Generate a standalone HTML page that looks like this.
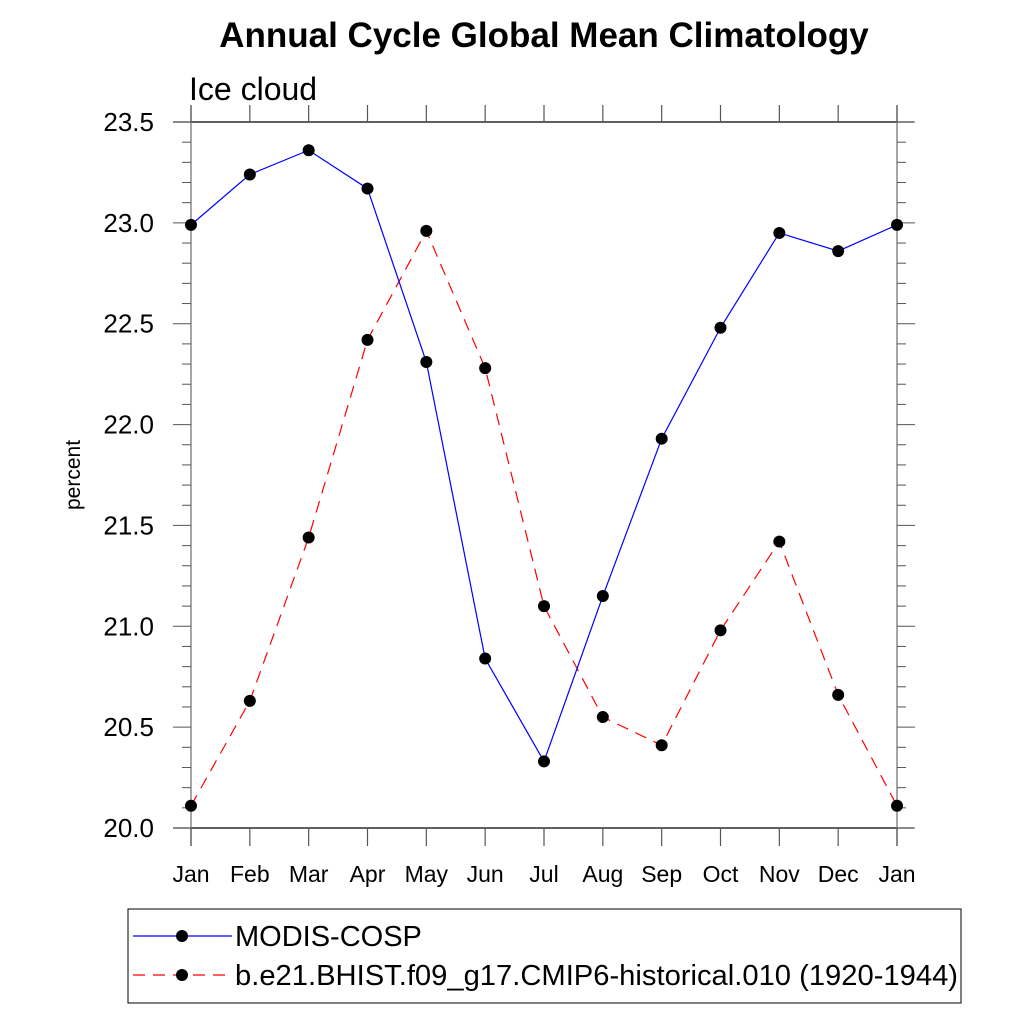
<!DOCTYPE html>
<html><head><meta charset="utf-8"><style>
html,body{margin:0;padding:0;background:#fff;}
svg{display:block;font-family:"Liberation Sans",sans-serif;}
</style></head><body>
<svg id="chart" width="1024" height="1024" viewBox="0 0 1024 1024">
<text x="544" y="47" text-anchor="middle" font-size="35" font-weight="bold">Annual Cycle Global Mean Climatology</text>
<text x="189" y="100" font-size="32">Ice cloud</text>
<text transform="translate(80,475) rotate(-90)" text-anchor="middle" font-size="21">percent</text>
<g id="axes"></g>
<g id="series"></g>
<rect x="128" y="909" width="833" height="94" fill="#fff" stroke="#000" stroke-width="1"/>
<line x1="133" y1="936" x2="232" y2="936" stroke="#0000ff" stroke-width="1.2"/>
<circle cx="182" cy="936" r="6" fill="#000"/>
<text x="235" y="946" font-size="29">MODIS-COSP</text>
<line x1="133" y1="975" x2="232" y2="975" stroke="#ff0000" stroke-width="1.2" stroke-dasharray="12,8"/>
<circle cx="182" cy="975" r="6" fill="#000"/>
<text x="235" y="985" font-size="29" textLength="723" lengthAdjust="spacingAndGlyphs">b.e21.BHIST.f09_g17.CMIP6-historical.010 (1920-1944)</text>
</svg>
<script>
const months = ["Jan","Feb","Mar","Apr","May","Jun","Jul","Aug","Sep","Oct","Nov","Dec","Jan"];
const modisValues = [22.99,23.24,23.36,23.17,22.31,20.84,20.33,21.15,21.93,22.48,22.95,22.86,22.99];
const modelValues = [20.11,20.63,21.44,22.42,22.96,22.28,21.10,20.55,20.41,20.98,21.42,20.66,20.11];
const yTicks = ["20.0","20.5","21.0","21.5","22.0","22.5","23.0","23.5"];
const NS="http://www.w3.org/2000/svg";
const X0=191,X1=897,Y0=828,Y1=122,YMIN=20,YMAX=23.5;
function xs(i){return X0+(X1-X0)*i/(months.length-1);}
function ys(v){return Y0-(v-YMIN)/(YMAX-YMIN)*(Y0-Y1);}
function mk(tag,attrs,parent){const e=document.createElementNS(NS,tag);for(const k in attrs)e.setAttribute(k,attrs[k]);parent.appendChild(e);return e;}
const ax=document.getElementById('axes');
[[173,122,914,122,'top-axis-line'],[173,828,914,828,'bottom-axis-line'],[191,105,191,846,'left-axis-line'],[897,105,897,846,'right-axis-line']].forEach(a=>{
  const l=mk('line',{x1:a[0],y1:a[1],x2:a[2],y2:a[3],stroke:a[1]===a[3]?'#000':'#777','stroke-width':1.3},ax);
  
  
});
for(let k=0;k<=35;k++){
  const v=YMIN+k*0.1, y=ys(v), major=k%5===0, L=major?18:9;
  const t1=mk('line',{x1:191-L,x2:191,y1:y,y2:y,stroke:'#555','stroke-width':1},ax);
  
  
  const t2=mk('line',{x1:897,x2:897+L,y1:y,y2:y,stroke:'#555','stroke-width':1},ax);
  
  
}
yTicks.forEach(s=>{
  const t=mk('text',{x:154,y:ys(parseFloat(s))+9,'text-anchor':'end','font-size':26},ax);
  t.textContent=s;
  
  
});
months.forEach((m,i)=>{
  const x=xs(i);
  const a=mk('line',{x1:x,x2:x,y1:828,y2:846,stroke:'#555','stroke-width':1.2},ax);
  
  
  const b=mk('line',{x1:x,x2:x,y1:105,y2:122,stroke:'#555','stroke-width':1.2},ax);
  
  
  const t=mk('text',{x:x,y:882,'text-anchor':'middle','font-size':23},ax);
  t.textContent=m;
  
  
});
const sg=document.getElementById('series');
function draw(vals,color,dash,name){
  const pts=vals.map((v,i)=>xs(i)+','+ys(v)).join(' ');
  const attrs={points:pts,fill:'none',stroke:color,'stroke-width':1.2};
  if(dash)attrs['stroke-dasharray']=dash;
  const pl=mk('polyline',attrs,sg);
  
  
  vals.forEach((v,i)=>{
    const c=mk('circle',{cx:xs(i),cy:ys(v),r:6,fill:'#000'},sg);
    
    
  });
}
draw(modelValues,'#ff0000','12,8','model');
draw(modisValues,'#0000ff',null,'modis');
</script>
</body></html>
